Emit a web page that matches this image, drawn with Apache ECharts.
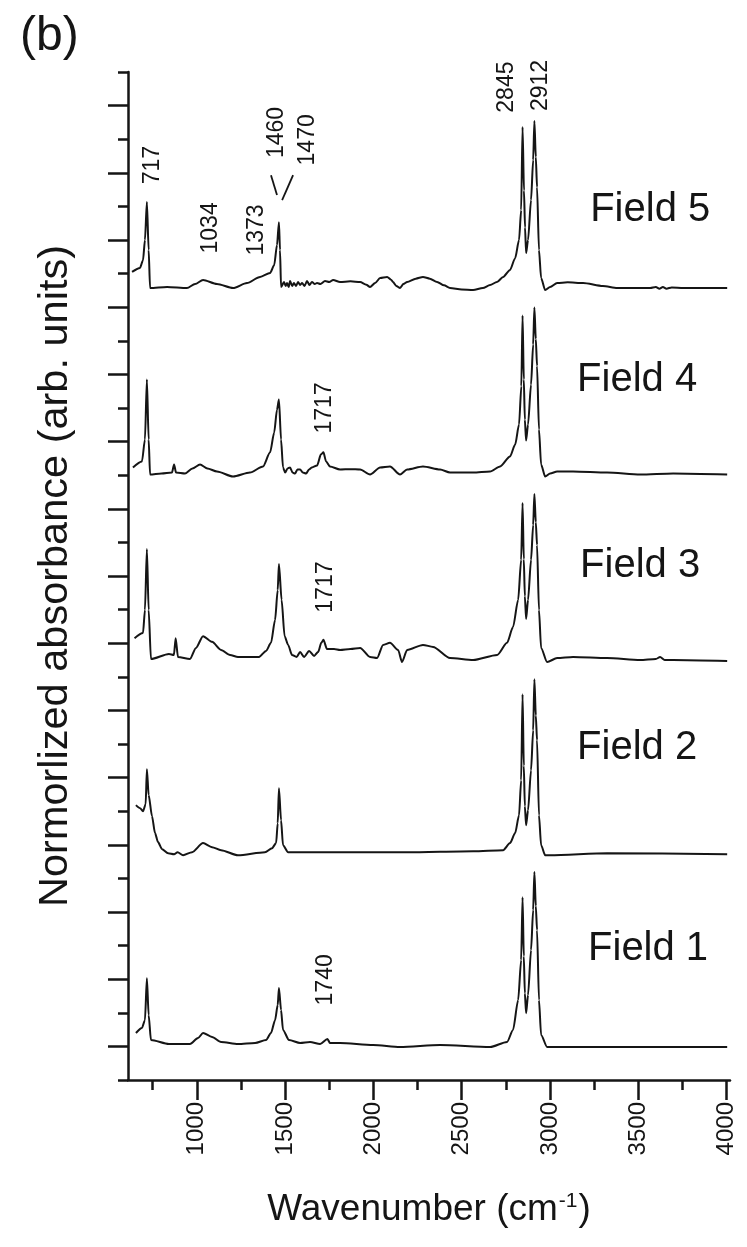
<!DOCTYPE html>
<html>
<head>
<meta charset="utf-8">
<script src="https://cdn.jsdelivr.net/npm/echarts@6/dist/echarts.min.js"></script>
<style>
  html, body { margin: 0; padding: 0; background: #ffffff; }
  #chart { width: 747px; height: 1247px; }
</style>
</head>
<body>
<div id="chart"></div>
<script>
// Infrared spectra of five fields: [wavenumber (cm-1), absorbance above each trace's own baseline]
const field1 = [
  [655,0.42],[689,0.57],[706,0.80],[717,2.05],[727,0.95],[740,0.21],[842,0.09],[961,0.09],[1007,0.27],
  [1035,0.42],[1086,0.30],[1137,0.15],[1233,0.09],[1330,0.12],[1392,0.21],[1420,0.42],[1443,0.80],
  [1458,1.25],[1465,1.76],[1477,1.10],[1488,0.51],[1522,0.21],[1585,0.12],[1641,0.15],[1698,0.09],
  [1740,0.24],[1754,0.12],[1811,0.12],[1998,0.06],[2151,0.0],[2378,0.06],[2661,0.0],[2757,0.15],
  [2791,0.51],[2820,1.40],[2837,2.59],[2845,4.46],[2852,2.7],[2858,1.6],[2865,1.01],[2876,1.55],
  [2893,2.89],[2905,4.08],[2912,5.21],[2920,4.2],[2927,3.48],[2938,1.40],[2950,0.36],[2984,0.0],
  [3324,0.0],[4004,0.0]
];
const field2 = [
  [655,1.43],[678,1.34],[695,1.25],[710,1.46],[717,2.50],[727,1.73],[746,1.10],[763,0.60],[780,0.33],
  [803,0.12],[837,0.0],[871,-0.03],[891,0.03],[922,-0.06],[973,0.03],[1035,0.30],[1086,0.18],[1137,0.09],
  [1233,-0.06],[1386,0.03],[1426,0.15],[1449,0.30],[1458,0.89],[1465,1.93],[1477,0.98],[1488,0.24],
  [1517,0.03],[1585,0.03],[1919,0.03],[2191,0.03],[2565,0.06],[2735,0.09],[2774,0.30],[2803,0.60],
  [2825,1.13],[2837,2.17],[2845,4.73],[2852,2.6],[2858,1.4],[2865,0.83],[2876,1.28],[2893,2.47],
  [2905,3.66],[2912,5.18],[2920,4.1],[2927,3.36],[2938,1.13],[2950,0.24],[2973,-0.06],[3001,-0.06],
  [3324,0.0],[4004,-0.03]
];
const field3 = [
  [647,0.65],[695,0.80],[706,1.49],[717,3.30],[727,1.49],[740,0.03],[842,0.18],[870,0.15],[880,0.65],
  [893,0.09],[961,0.03],[995,0.36],[1035,0.71],[1086,0.54],[1137,0.30],[1188,0.15],[1233,0.09],
  [1352,0.09],[1392,0.27],[1420,0.51],[1443,1.19],[1458,2.08],[1465,2.86],[1480,1.79],[1497,0.71],
  [1517,0.45],[1539,0.15],[1565,0.09],[1585,0.24],[1607,0.09],[1636,0.27],[1664,0.12],[1687,0.24],
  [1705,0.51],[1717,0.60],[1737,0.33],[1777,0.33],[1811,0.30],[1870,0.33],[1925,0.36],[1981,0.09],
  [2021,0.06],[2055,0.45],[2094,0.51],[2140,0.30],[2162,-0.06],[2191,0.30],[2281,0.45],[2338,0.39],
  [2434,0.06],[2565,0.0],[2701,0.15],[2757,0.51],[2791,0.98],[2820,1.79],[2837,2.98],[2845,4.67],
  [2852,3.0],[2858,1.9],[2865,1.22],[2876,1.79],[2893,2.98],[2905,4.02],[2912,4.94],[2920,4.1],
  [2927,3.42],[2938,1.49],[2950,0.36],[2984,-0.06],[3041,0.06],[3131,0.09],[3324,0.06],[3511,0.0],
  [3600,0.03],[3624,0.09],[3650,0.0],[3698,0.0],[4004,-0.03]
];
const field4 = [
  [638,0.18],[689,0.36],[706,1.01],[717,2.80],[727,1.01],[735,-0.03],[800,0.0],[859,0.03],[871,0.27],
  [882,0.03],[933,0.0],[975,0.15],[1018,0.27],[1060,0.15],[1114,0.06],[1205,-0.09],[1301,0.03],
  [1375,0.21],[1415,0.63],[1438,1.22],[1454,1.90],[1465,2.20],[1477,1.01],[1488,0.18],[1500,0.03],
  [1514,0.15],[1528,0.18],[1542,0.03],[1556,0.0],[1570,0.12],[1585,0.12],[1600,0.03],[1619,0.0],
  [1635,0.12],[1652,0.18],[1681,0.24],[1703,0.57],[1717,0.63],[1732,0.36],[1754,0.21],[1811,0.12],
  [1870,0.13],[1925,0.12],[1981,-0.03],[2038,0.18],[2094,0.21],[2151,-0.03],[2191,0.12],[2281,0.21],
  [2378,0.12],[2434,0.03],[2565,0.03],[2661,0.06],[2718,0.21],[2774,0.51],[2803,0.86],[2825,1.46],
  [2838,2.6],[2845,4.70],[2852,2.8],[2858,1.6],[2865,0.98],[2876,1.46],[2893,2.65],[2905,3.84],
  [2912,4.94],[2920,4.0],[2927,3.2],[2938,1.31],[2950,0.27],[2973,-0.09],[3001,0.0],[3041,0.06],
  [3131,0.06],[3324,0.03],[3511,-0.03],[3698,0.0],[4004,-0.03]
];
const field5 = [
  [633,0.48],[678,0.60],[695,0.83],[706,1.43],[717,2.56],[727,1.13],[735,0.0],[831,0.03],[944,0.0],
  [990,0.12],[1035,0.24],[1114,0.12],[1205,0.0],[1284,0.15],[1358,0.33],[1415,0.45],[1438,0.68],
  [1454,1.28],[1465,1.96],[1471,1.13],[1477,0.03],[1494,0.18],[1503,0.06],[1511,0.15],[1520,0.03],
  [1528,0.21],[1540,0.06],[1550,0.15],[1562,0.06],[1573,0.18],[1585,0.09],[1596,0.15],[1610,0.06],
  [1624,0.21],[1638,0.09],[1652,0.18],[1668,0.12],[1681,0.15],[1700,0.12],[1726,0.21],[1750,0.18],
  [1772,0.24],[1811,0.18],[1870,0.2],[1925,0.18],[1960,0.1],[1981,0.03],[2010,0.15],[2038,0.30],
  [2078,0.33],[2100,0.25],[2111,0.18],[2130,0.06],[2151,0.0],[2170,0.12],[2191,0.18],[2240,0.28],
  [2281,0.33],[2320,0.28],[2361,0.18],[2400,0.08],[2434,0.0],[2500,-0.04],[2565,-0.06],[2620,0.0],
  [2661,0.09],[2700,0.18],[2735,0.33],[2774,0.54],[2803,0.89],[2825,1.43],[2837,2.32],[2845,4.79],
  [2853,2.9],[2859,1.8],[2865,1.04],[2876,1.43],[2893,2.62],[2905,3.81],[2912,4.97],[2920,3.9],
  [2927,3.0],[2938,1.13],[2950,0.30],[2973,-0.06],[3001,0.03],[3041,0.15],[3100,0.17],[3188,0.15],
  [3300,0.06],[3381,0.0],[3500,0.0],[3568,0.0],[3600,0.03],[3620,-0.02],[3640,0.03],[3660,-0.02],
  [3690,0.02],[3755,0.0],[4004,0.0]
];

const spectra = [field1, field2, field3, field4, field5];
const fieldNames = ['Field 1', 'Field 2', 'Field 3', 'Field 4', 'Field 5'];
// vertical stacking offset of each trace
const offsets = [0.98, 6.75, 12.5, 18.05, 23.57];
// where each field name sits: [wavenumber, level]
const fieldNameAnchors = [[3556, 3.9], [3494, 9.88], [3511, 15.3], [3494, 20.83], [3568, 25.9]];

// band assignments written above the traces: [wavenumber, level, text]
const peakLabels = [
  [752, 27.23, '717'], [1080, 25.36, '1034'], [1341, 25.3, '1373'],
  [1454, 28.2, '1460'], [1630, 27.98, '1470'],
  [2757, 29.55, '2845'], [2950, 29.6, '2912'],
  [1726, 20.0, '1717'], [1732, 14.67, '1717'], [1732, 2.98, '1740']
];
// leader strokes from the 1460 / 1470 labels to the band
const leaderLines = [
  [[1420, 26.93], [1454, 26.34]],
  [[1545, 26.93], [1483, 26.19]]
];

const xMajorTicks = [1000, 1500, 2000, 2500, 3000, 3500, 4000];
const xMinorTicks = [750, 1250, 1750, 2250, 2750, 3250, 3750];
const yMajorTicks = [1,3,5,7,9,11,13,15,17,19,21,23,25,27,29];
const yMinorTicks = [0,2,4,6,8,10,12,14,16,18,20,22,24,26,28,30];

const INK = '#151515';
const FONT = 'Liberation Sans, Arial, Helvetica, sans-serif';

const chart = echarts.init(document.getElementById('chart'), null, { renderer: 'canvas' });

const traceSeries = spectra.map((pts, i) => ({
  type: 'line',
  name: fieldNames[i],
  xAxisIndex: 0,
  yAxisIndex: 0,
  data: pts.map(([w, a]) => [w, a + offsets[i]]),
  showSymbol: false,
  symbol: 'none',
  smooth: 0.25,
  smoothMonotone: 'x',
  silent: true,
  lineStyle: { color: INK, width: 2 },
  z: 3
}));

const option = {
  backgroundColor: '#ffffff',
  animation: false,
  title: {
    text: '(b)',
    left: 15,
    top: 8,
    textStyle: { fontFamily: FONT, fontSize: 48, fontWeight: 'normal', color: INK }
  },
  grid: { left: 128, top: 72, right: 17, bottom: 167, containLabel: false },
  xAxis: [
    {
      type: 'value', min: 610, max: 4020, position: 'bottom',
      axisLine: { show: true, lineStyle: { color: INK, width: 2.5 } },
      axisTick: { show: true, customValues: xMajorTicks, length: 20, lineStyle: { color: INK, width: 2.5 } },
      axisLabel: {
        show: true, customValues: xMajorTicks, rotate: 90, margin: 22,
        formatter: v => String(v),
        fontFamily: FONT, fontSize: 24, color: INK
      },
      splitLine: { show: false },
      name: '{t|Wavenumber (cm}{s|-1}{t|)}',
      nameLocation: 'middle',
      nameGap: 111,
      nameTextStyle: {
        rich: {
          t: { fontFamily: FONT, fontSize: 37, color: INK },
          s: { fontFamily: FONT, fontSize: 21, color: INK, verticalAlign: 'top', padding: [0, 1, 0, 1] }
        }
      }
    },
    {
      type: 'value', min: 610, max: 4020, position: 'bottom', offset: 0,
      axisLine: { show: false },
      axisTick: { show: true, customValues: xMinorTicks, length: 10, lineStyle: { color: INK, width: 2.5 } },
      axisLabel: { show: false },
      splitLine: { show: false }
    }
  ],
  yAxis: [
    {
      type: 'value', min: 0, max: 30, position: 'left',
      axisLine: { show: true, lineStyle: { color: INK, width: 2.5 } },
      axisTick: { show: true, customValues: yMajorTicks, length: 20, lineStyle: { color: INK, width: 2.5 } },
      axisLabel: { show: false },
      splitLine: { show: false },
      name: 'Normorlized absorbance (arb. units)',
      nameLocation: 'middle',
      nameGap: 51,
      nameTextStyle: { fontFamily: FONT, fontSize: 41.5, color: INK }
    },
    {
      type: 'value', min: 0, max: 30, position: 'left', offset: 0,
      axisLine: { show: false },
      axisTick: { show: true, customValues: yMinorTicks, length: 10, lineStyle: { color: INK, width: 2.5 } },
      axisLabel: { show: false },
      splitLine: { show: false }
    }
  ],
  series: traceSeries.concat([
    {
      type: 'scatter',
      name: 'bands',
      silent: true,
      symbolSize: 0,
      itemStyle: { opacity: 1 },
      data: peakLabels.map(([w, y, t]) => ({ value: [w, y], name: t })),
      label: {
        show: true, position: 'inside', rotate: 90, formatter: '{b}',
        fontFamily: FONT, fontSize: 23, color: INK, opacity: 1
      },
      z: 5
    },
    {
      type: 'scatter',
      name: 'fields',
      silent: true,
      symbolSize: 0,
      itemStyle: { opacity: 1 },
      data: fieldNameAnchors.map(([w, y], i) => ({ value: [w, y], name: fieldNames[i] })),
      label: {
        show: true, position: 'inside', formatter: '{b}',
        fontFamily: FONT, fontSize: 40, color: INK, opacity: 1
      },
      z: 5
    },
    {
      type: 'lines',
      coordinateSystem: 'cartesian2d',
      silent: true,
      polyline: false,
      data: leaderLines.map(c => ({ coords: c })),
      lineStyle: { color: INK, width: 1.8, opacity: 1 },
      z: 4
    }
  ])
};

chart.setOption(option);
</script>
</body>
</html>
